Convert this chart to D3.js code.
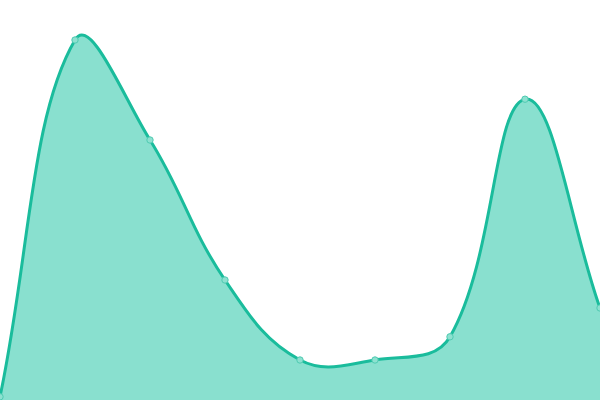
<!DOCTYPE html>
<html><head><meta charset="utf-8">
<script src="https://cdn.jsdelivr.net/npm/d3@7"></script>
<style>html,body{margin:0;padding:0;background:#fff;}svg{display:block;}</style>
</head><body>
<svg id="c" width="600" height="400"></svg>
<script>
const categories = ["A","B","C","D","E","F","G","H","I"];
const values = [0.8, 90, 65, 30, 10, 10, 15.8, 75.2, 23];

const W = 600, H = 400;
const svg = d3.select("#c");
const x = d3.scalePoint().domain(categories).range([0, W]);
const y = d3.scaleLinear().domain([0, 100]).range([H, 0]);
const data = categories.map((c, i) => ({c, v: values[i]}));

// Spline curve (tension-based, distance-weighted control points) as a D3 curve factory
function SplineCurve(context, tension) { this._context = context; this._t = tension; }
SplineCurve.prototype = {
  areaStart() { this._line = 0; },
  areaEnd() { this._line = NaN; },
  lineStart() { this._pts = []; },
  point(px, py) { this._pts.push([+px, +py]); },
  lineEnd() {
    const p = this._pts, n = p.length, t = this._t, ctx = this._context;
    if (n) {
      if (this._line) ctx.lineTo(p[0][0], p[0][1]); else ctx.moveTo(p[0][0], p[0][1]);
    }
    const cps = p.map((cur, i) => {
      const prev = p[i - 1] || cur, next = p[i + 1] || cur;
      const d01 = Math.hypot(cur[0] - prev[0], cur[1] - prev[1]);
      const d12 = Math.hypot(next[0] - cur[0], next[1] - cur[1]);
      let s01 = d01 / (d01 + d12), s12 = d12 / (d01 + d12);
      if (isNaN(s01)) s01 = 0;
      if (isNaN(s12)) s12 = 0;
      const fa = t * s01, fb = t * s12;
      return {
        prev: [cur[0] - fa * (next[0] - prev[0]), cur[1] - fa * (next[1] - prev[1])],
        next: [cur[0] + fb * (next[0] - prev[0]), cur[1] + fb * (next[1] - prev[1])]
      };
    });
    for (let i = 1; i < n; i++) {
      ctx.bezierCurveTo(cps[i - 1].next[0], cps[i - 1].next[1], cps[i].prev[0], cps[i].prev[1], p[i][0], p[i][1]);
    }
    if (this._line || (this._line !== 0 && n === 1)) ctx.closePath();
    this._line = 1 - this._line;
  }
};
const curve = ctx => new SplineCurve(ctx, 0.4);

const area = d3.area().x(d => x(d.c)).y0(y(0)).y1(d => y(d.v)).curve(curve);
const line = d3.line().x(d => x(d.c)).y(d => y(d.v)).curve(curve);

svg.append("path").datum(data).attr("d", area).attr("fill", "#89e0cf");
svg.append("path").datum(data).attr("d", line).attr("fill", "none")
  .attr("stroke", "#1abc9c").attr("stroke-width", 3);
svg.selectAll("circle").data(data).join("circle")
  .attr("cx", d => x(d.c)).attr("cy", d => y(d.v)).attr("r", 3.2)
  .attr("fill", "#8de1d0").attr("stroke", "#4fcbb2").attr("stroke-width", 1);
</script>
</body></html>
